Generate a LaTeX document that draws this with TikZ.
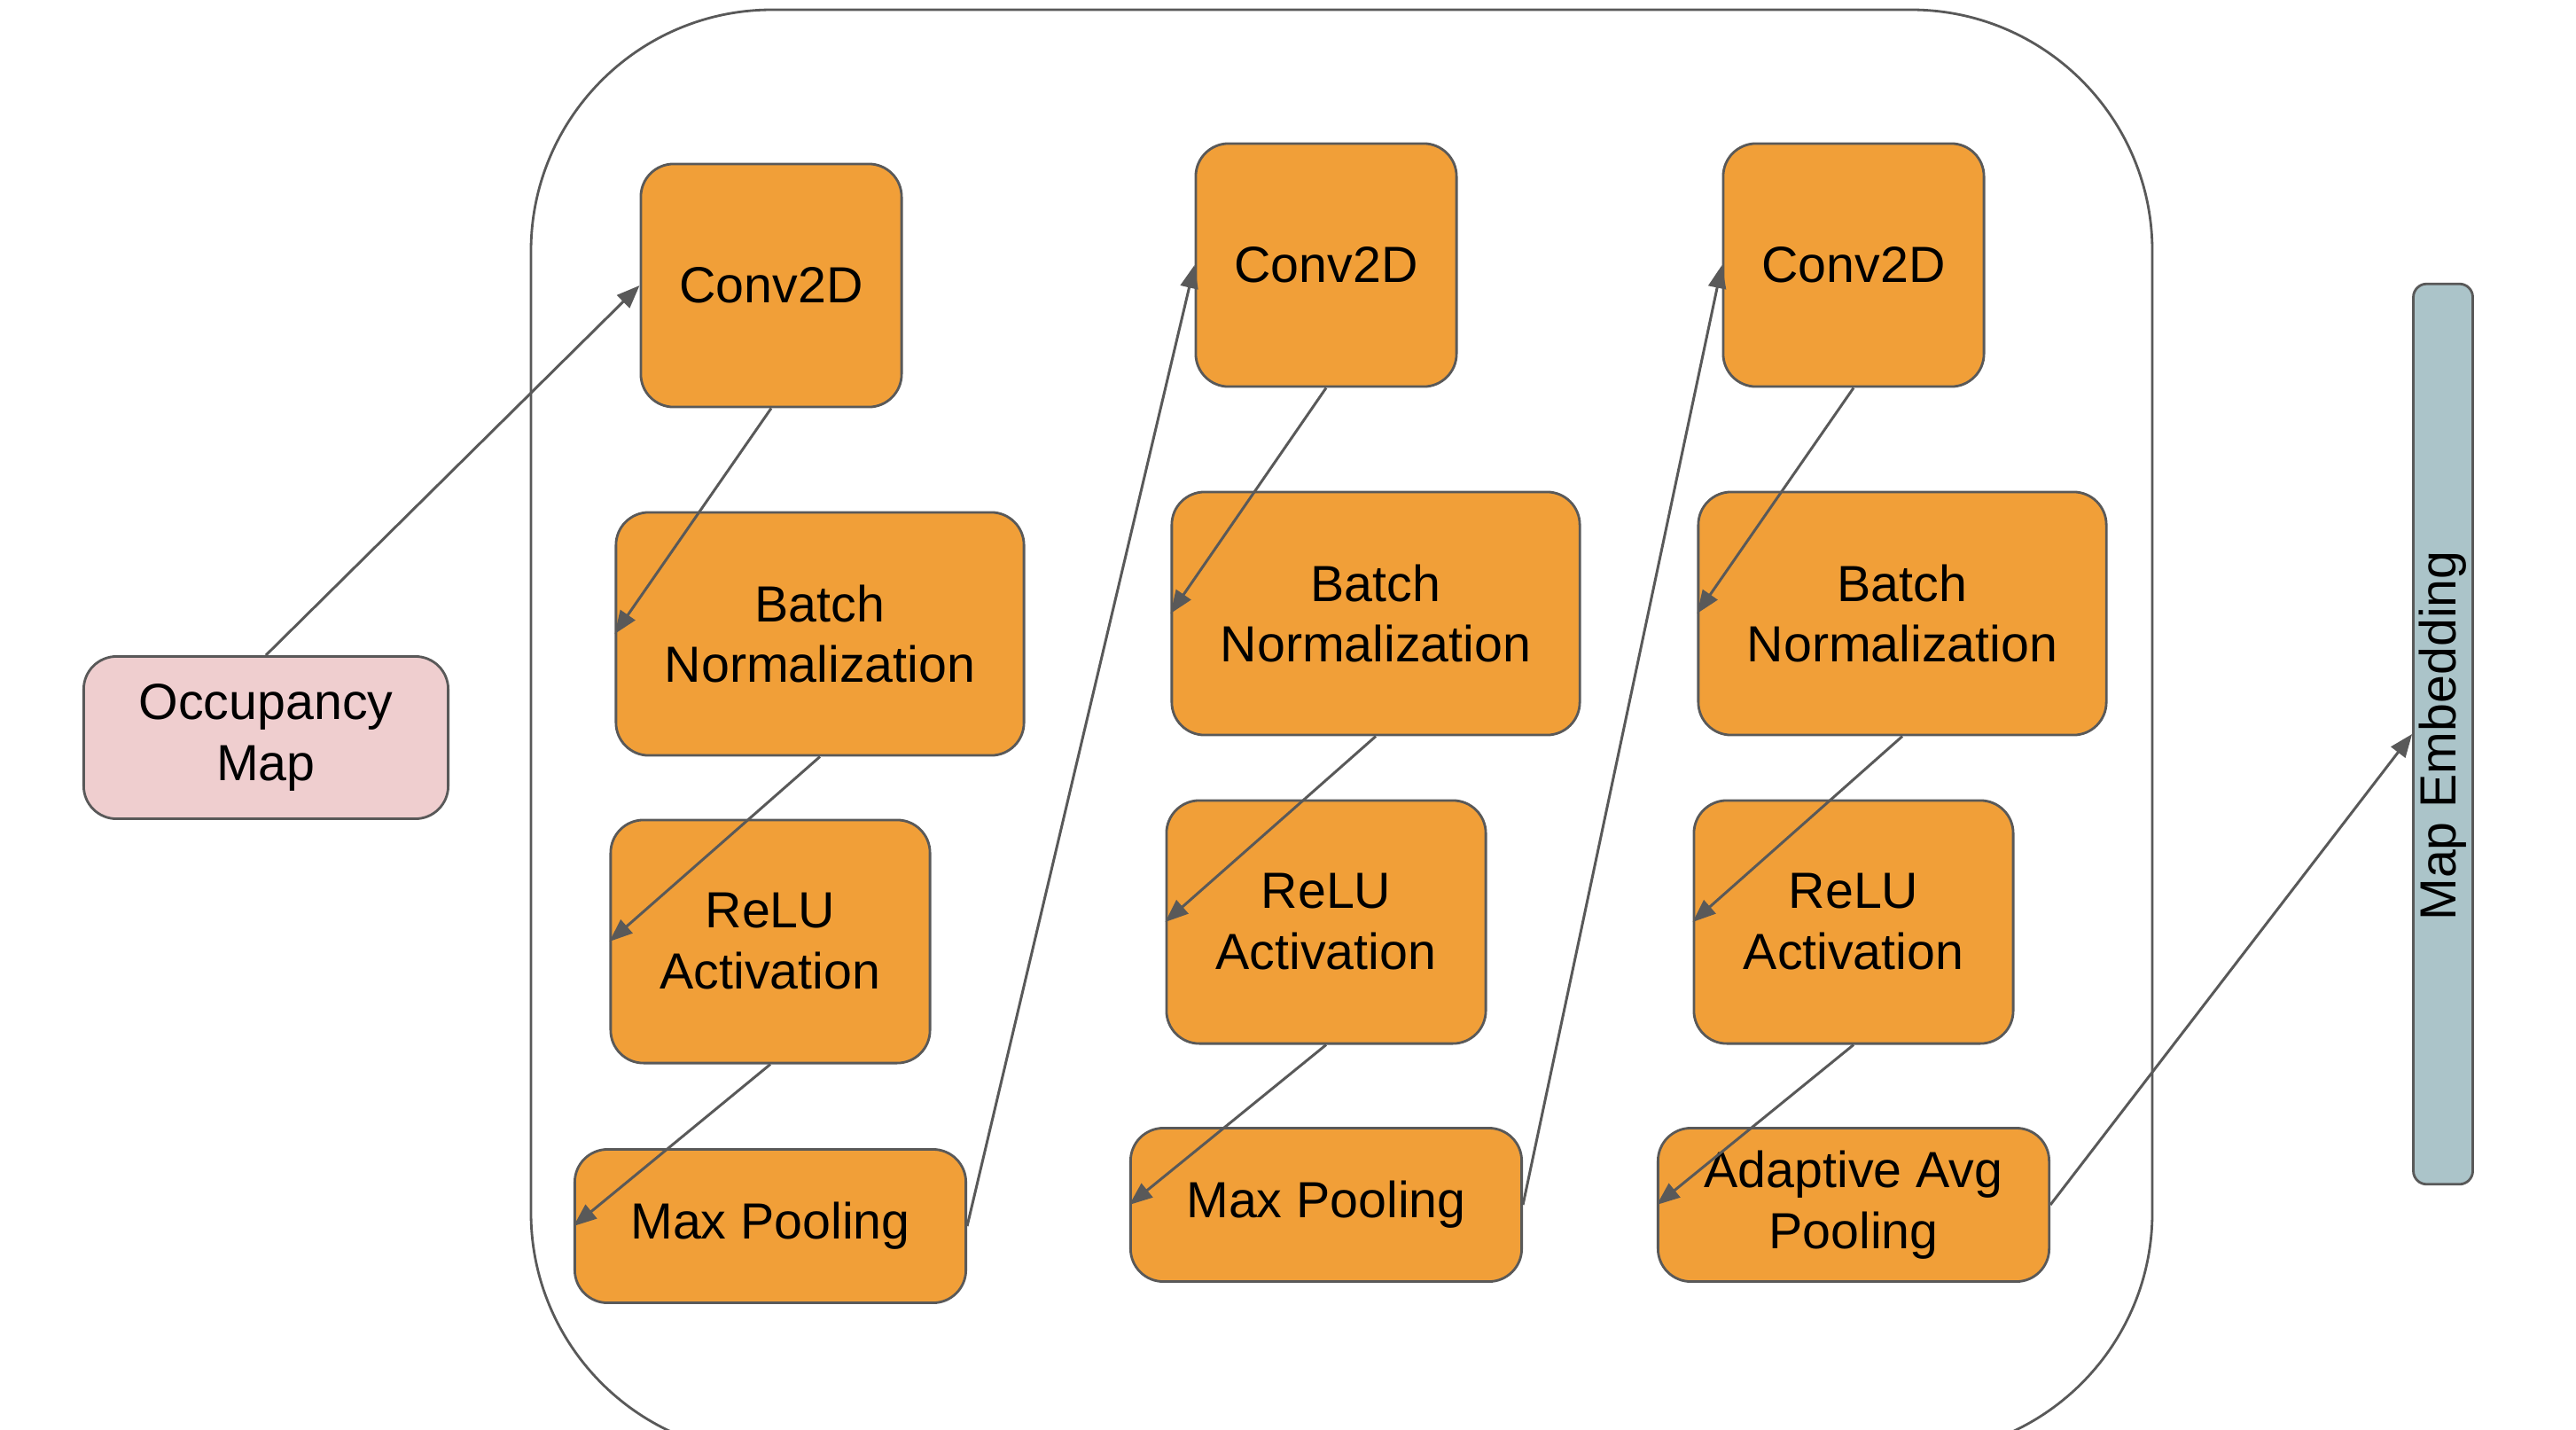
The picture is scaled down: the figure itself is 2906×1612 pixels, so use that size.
\documentclass[tikz,border=0pt]{standalone}
\usepackage{fontspec}
\setmainfont{Liberation Sans}
\usepackage{xcolor}
\usetikzlibrary{arrows.meta}

\definecolor{layerfill}{HTML}{F19F38}
\definecolor{inputfill}{HTML}{EFCECF}
\definecolor{embedfill}{HTML}{ABC4C9}
\definecolor{edgegray}{HTML}{595959}

\begin{document}
\begin{tikzpicture}[x=0.01cm, y=-0.01cm,
                    >={Triangle[length=0.26cm, width=0.2cm]},
                    every node/.style={rectangle, rounded corners=0.37cm, draw=edgegray, line width=0.8pt,
                                      align=center, font=\fontsize{16.3}{19.6}\selectfont, inner sep=0pt},
                    layer/.style={fill=layerfill, minimum height=2.74cm},
                    pool/.style={fill=layerfill, minimum height=1.73cm, minimum width=4.41cm},
                    link/.style={->, draw=edgegray, line width=0.85pt}]

\clip (0,0) rectangle (2906,1612);

% Outer block
\draw[edgegray, line width=0.8pt, rounded corners=2.72cm] (599,11) rectangle (2428,1640);

% Input and output
\node[fill=inputfill, minimum width=4.11cm, minimum height=1.83cm] (occ) at (300,832) {Occupancy\\Map};
\node[fill=embedfill, rounded corners=0.15cm, minimum width=0.67cm, minimum height=10.15cm] (embed) at (2756,828) {};
\node[draw=none, rotate=90, inner sep=0pt] (embedtext) at (2756,830) {Map Embedding};

% First block
\node[layer, minimum width=2.94cm] (conv1) at (870,322) {Conv2D};
\node[layer, minimum width=4.60cm] (batch1) at (925,715) {Batch\\Normalization};
\node[layer, minimum width=3.60cm] (relu1) at (869,1062) {ReLU\\Activation};
\node[pool] (pool1) at (869,1383) {Max Pooling};

% Second block
\node[layer, minimum width=2.94cm] (conv2) at (1496,299) {Conv2D};
\node[layer, minimum width=4.60cm] (batch2) at (1552,692) {Batch\\Normalization};
\node[layer, minimum width=3.60cm] (relu2) at (1496,1040) {ReLU\\Activation};
\node[pool] (pool2) at (1496,1359) {Max Pooling};

% Third block
\node[layer, minimum width=2.94cm] (conv3) at (2091,299) {Conv2D};
\node[layer, minimum width=4.60cm] (batch3) at (2146,692) {Batch\\Normalization};
\node[layer, minimum width=3.60cm] (relu3) at (2091,1040) {ReLU\\Activation};
\node[pool] (pool3) at (2091,1359) {Adaptive Avg\\Pooling};

% Connections
\draw[link] (occ.north) -- (conv1.west);

\draw[link] (conv1.south) -- (batch1.west);
\draw[link] (batch1.south) -- (relu1.west);
\draw[link] (relu1.south) -- (pool1.west);
\draw[link] (pool1.east) -- (conv2.west);

\draw[link] (conv2.south) -- (batch2.west);
\draw[link] (batch2.south) -- (relu2.west);
\draw[link] (relu2.south) -- (pool2.west);
\draw[link] (pool2.east) -- (conv3.west);

\draw[link] (conv3.south) -- (batch3.west);
\draw[link] (batch3.south) -- (relu3.west);
\draw[link] (relu3.south) -- (pool3.west);
\draw[link] (pool3.east) -- (embed.west);

\end{tikzpicture}
\end{document}
